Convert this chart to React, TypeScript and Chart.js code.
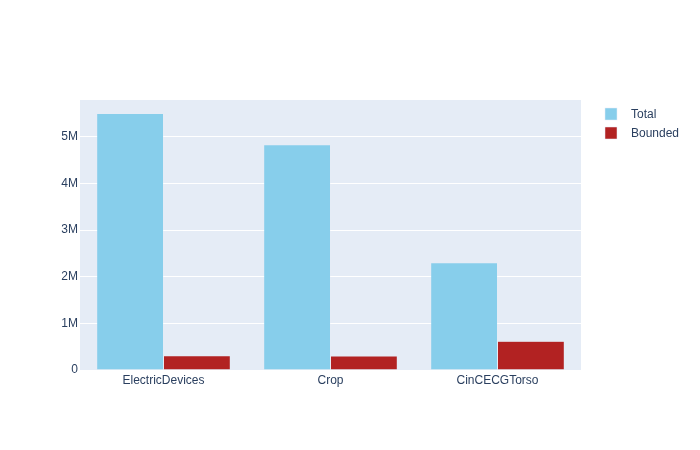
import React, { useEffect, useRef } from "react";
import { Chart, registerables } from "chart.js";

Chart.register(...registerables);

const categories = ["ElectricDevices", "Crop", "CinCECGTorso"];
const totalValues = [5500000, 4830000, 2300000];
const boundedValues = [305000, 300000, 615000];
const seriesNames = ["Total", "Bounded"];
const seriesColors = ["#87CEEB", "#B22222"];
const yTickValues = [0, 1000000, 2000000, 3000000, 4000000, 5000000];
const yTickLabels = ["0", "1M", "2M", "3M", "4M", "5M"];

const FONT = '"Liberation Sans", Arial, sans-serif';
const TEXT = "#2a3f5f";

const plotBg = {
  id: "plotBg",
  beforeDraw(chart: any) {
    const { ctx, chartArea } = chart;
    ctx.save();
    ctx.fillStyle = "#E5ECF6";
    ctx.fillRect(chartArea.left, chartArea.top, chartArea.right - chartArea.left, chartArea.bottom - chartArea.top);
    ctx.restore();
  },
};

const sideLegend = {
  id: "sideLegend",
  afterDraw(chart: any) {
    const { ctx } = chart;
    ctx.save();
    ctx.font = `12px ${FONT}`;
    ctx.textBaseline = "middle";
    ctx.textAlign = "left";
    chart.data.datasets.forEach((ds: any, i: number) => {
      const cy = 114 + i * 19;
      ctx.fillStyle = ds.backgroundColor;
      ctx.fillRect(605, cy - 6, 12, 12);
      ctx.strokeStyle = "#E5ECF6";
      ctx.lineWidth = 0.5;
      ctx.strokeRect(605, cy - 6, 12, 12);
      ctx.fillStyle = TEXT;
      ctx.fillText(ds.label, 631, cy + 0.5);
    });
    ctx.restore();
  },
};

export default function App() {
  const ref = useRef<HTMLCanvasElement>(null);
  useEffect(() => {
    if (!ref.current) return;
    const chart = new Chart(ref.current, {
      type: "bar",
      data: {
        labels: categories,
        datasets: [
          {
            label: seriesNames[0],
            data: totalValues,
            backgroundColor: seriesColors[0],
            borderColor: "#E5ECF6",
            borderWidth: 0.5,
            categoryPercentage: 0.8,
            barPercentage: 1.0,
          },
          {
            label: seriesNames[1],
            data: boundedValues,
            backgroundColor: seriesColors[1],
            borderColor: "#E5ECF6",
            borderWidth: 0.5,
            categoryPercentage: 0.8,
            barPercentage: 1.0,
          },
        ],
      },
      options: {
        animation: false,
        responsive: false,
        maintainAspectRatio: false,
        layout: { padding: { top: 100, right: 119, bottom: 0, left: 0 } },
        plugins: {
          legend: { display: false },
          tooltip: { enabled: false },
        },
        scales: {
          x: {
            grid: { display: false, drawTicks: false },
            border: { display: false },
            ticks: {
              color: TEXT,
              font: { family: FONT, size: 12 },
              padding: 3,
              maxRotation: 0,
            },
            afterFit(scale: any) {
              scale.height = 80;
            },
          },
          y: {
            min: 0,
            max: 5790000,
            grid: { color: "#ffffff", lineWidth: 1, drawTicks: false },
            border: { display: false },
            afterBuildTicks(scale: any) {
              scale.ticks = yTickValues.map((v) => ({ value: v }));
            },
            ticks: {
              color: TEXT,
              font: { family: FONT, size: 12 },
              padding: 2,
              callback: (v: any) => {
                const i = yTickValues.indexOf(Number(v));
                return i >= 0 ? yTickLabels[i] : "";
              },
            },
            afterFit(scale: any) {
              scale.width = 80;
            },
          },
        },
      },
      plugins: [plotBg, sideLegend],
    });
    return () => chart.destroy();
  }, []);
  return (
    <div style={{ position: "fixed", left: 0, top: 0, width: 700, height: 450, background: "#fff" }}>
      <canvas ref={ref} width={700} height={450} style={{ width: 700, height: 450, display: "block" }} />
    </div>
  );
}
